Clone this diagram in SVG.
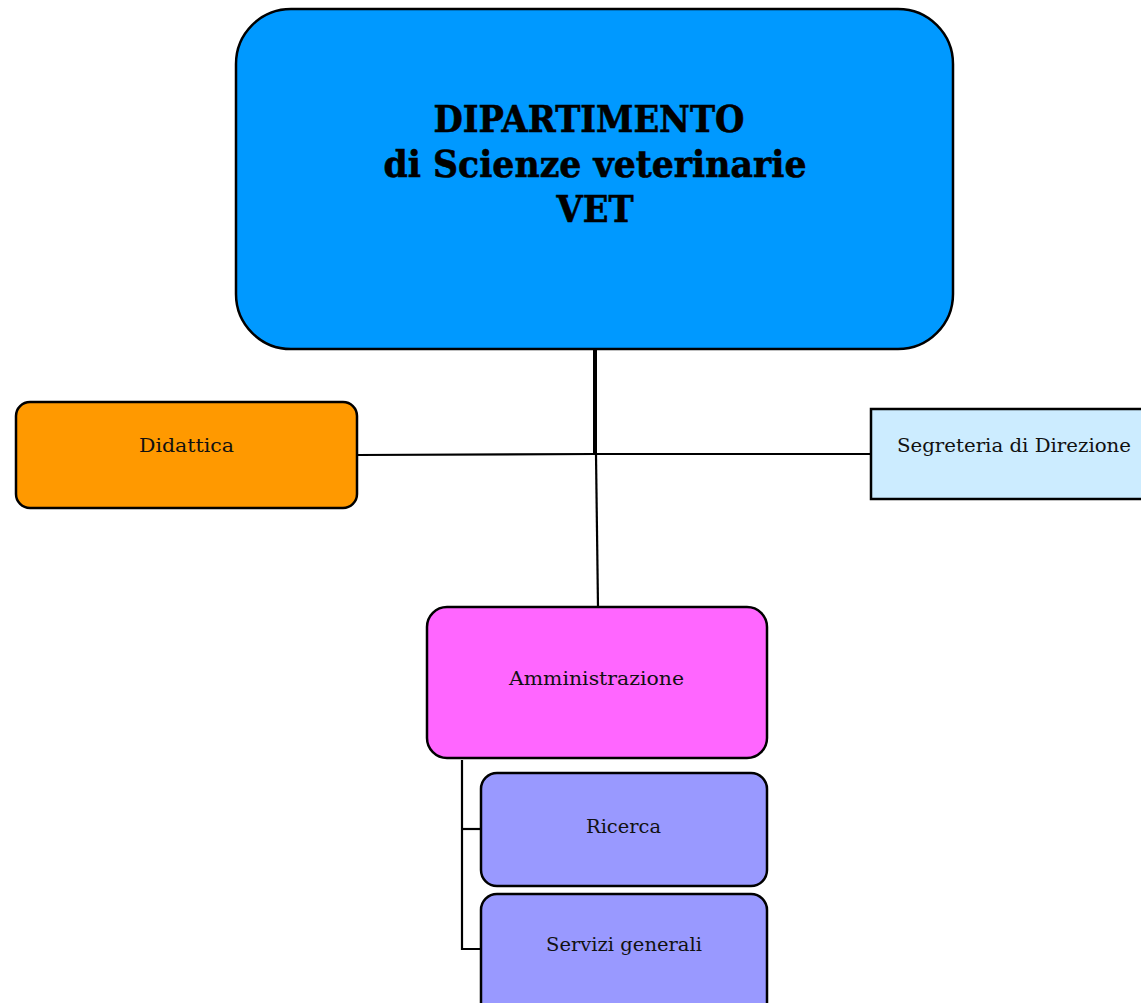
<svg xmlns="http://www.w3.org/2000/svg" width="1141" height="1003" viewBox="0 0 1141 1003">
<style>
.box{stroke:#000;stroke-width:2.5}
.t{font-family:"DejaVu Serif","Liberation Serif",serif;font-size:19px;fill:#111;text-anchor:middle}
.h{font-family:"DejaVu Serif","Liberation Serif",serif;font-size:37px;font-weight:bold;fill:#000;stroke:#000;stroke-width:0.6;text-anchor:middle}
.c{fill:none;stroke:#000;stroke-width:2.2}
</style>
<rect width="1141" height="1003" fill="#fff"/>
<g id="connectors">
<line class="c" x1="595" y1="349" x2="595" y2="455" style="stroke-width:4"/>
<line class="c" x1="357" y1="455" x2="595" y2="454"/>
<line class="c" x1="595" y1="454" x2="870" y2="454"/>
<line class="c" x1="596" y1="455" x2="598" y2="607"/>
<polyline class="c" points="462,760 462,949 481,949"/>
<line class="c" x1="462" y1="829" x2="481" y2="829"/>
</g>
<g id="dipartimento">
<rect class="box" x="236" y="9" width="717" height="340" rx="55" fill="#0099FF"/>
<text class="h" x="589" y="132" textLength="311" lengthAdjust="spacingAndGlyphs">DIPARTIMENTO</text>
<text class="h" x="595" y="177" textLength="423" lengthAdjust="spacingAndGlyphs">di Scienze veterinarie</text>
<text class="h" x="595" y="222" textLength="77" lengthAdjust="spacingAndGlyphs">VET</text>
</g>
<g id="didattica">
<rect class="box" x="16" y="402" width="341" height="106" rx="14" fill="#FF9900"/>
<text class="t" x="186.5" y="452" textLength="95" lengthAdjust="spacingAndGlyphs">Didattica</text>
</g>
<g id="segreteria">
<rect class="box" x="871" y="409" width="275" height="90" fill="#CCECFF"/>
<text class="t" x="1014" y="452" textLength="234" lengthAdjust="spacingAndGlyphs">Segreteria di Direzione</text>
</g>
<g id="amministrazione">
<rect class="box" x="427" y="607" width="340" height="151" rx="20" fill="#FF66FF"/>
<text class="t" x="596.5" y="685" textLength="175" lengthAdjust="spacingAndGlyphs">Amministrazione</text>
</g>
<g id="ricerca">
<rect class="box" x="481" y="773" width="286" height="113" rx="16" fill="#9999FF"/>
<text class="t" x="623.5" y="833" textLength="75" lengthAdjust="spacingAndGlyphs">Ricerca</text>
</g>
<g id="servizi">
<rect class="box" x="481" y="894" width="286" height="125" rx="16" fill="#9999FF"/>
<text class="t" x="624" y="951" textLength="156" lengthAdjust="spacingAndGlyphs">Servizi generali</text>
</g>
</svg>
